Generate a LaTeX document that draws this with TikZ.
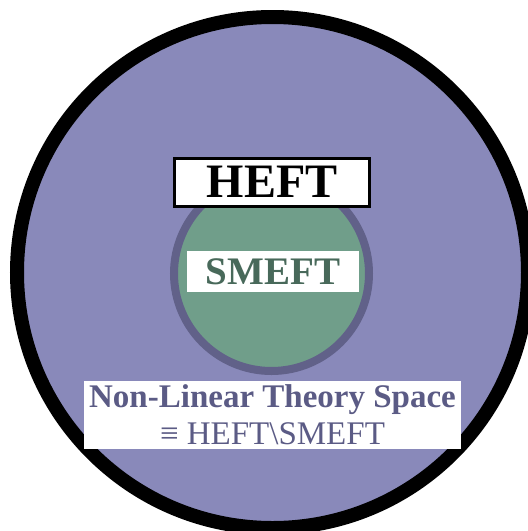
\documentclass[tikz,border=0pt]{standalone}
\usepackage{fontspec}
\setmainfont{Liberation Serif}
\usepackage{xcolor}
\usetikzlibrary{positioning}
\definecolor{Space}{HTML}{8989BA}
\definecolor{Smeft}{HTML}{709E8A}
\definecolor{Rim}{HTML}{616189}
\definecolor{SmeftInk}{HTML}{48695A}
\definecolor{Slate}{HTML}{5B5B85}

\begin{document}
\begin{tikzpicture}[x=1pt,y=-1pt,every node/.style={align=center,inner sep=0pt}]
  \clip (0,0) rectangle (528,531);
  \node[circle,draw=black,line width=14pt,fill=Space,minimum size=511pt] (space) at (272.5,272.5) {};
  \node[circle,draw=Rim,line width=8pt,fill=Smeft,minimum size=195pt] (disc) at (271.5,273.5) {};
  \node[draw=black,line width=3pt,fill=white,minimum width=195pt,minimum height=48pt,
        font=\fontsize{48}{48}\selectfont\bfseries] (heft) at (272,182) {HEFT};
  \node[fill=white,minimum width=171.5pt,minimum height=41pt,text=SmeftInk,
        font=\fontsize{39}{39}\selectfont\bfseries] (smeft) at (273,271.5) {SMEFT};
  \node[fill=white,minimum width=377pt,minimum height=68.5pt,text=Slate,
        font=\fontsize{33}{37}\selectfont] (nonlin) at (272.5,415)
    {{\bfseries Non-Linear Theory Space}\\≡ HEFT\textbackslash SMEFT};
\end{tikzpicture}
\end{document}
